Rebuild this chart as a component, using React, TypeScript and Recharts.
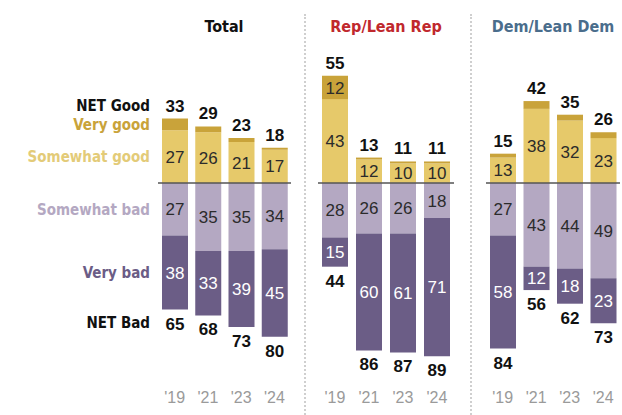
import React from "react";
import { BarChart, Bar, XAxis, YAxis, ReferenceLine, LabelList } from "recharts";

const years = ["'19", "'21", "'23", "'24"];

const totalSomewhatGood = [27, 26, 21, 17];
const totalVeryGood = [6, 3, 2, 1];
const totalNetGood = [33, 29, 23, 18];
const totalSomewhatBad = [27, 35, 35, 34];
const totalVeryBad = [38, 33, 39, 45];
const totalNetBad = [65, 68, 73, 80];

const repSomewhatGood = [43, 12, 10, 10];
const repVeryGood = [12, 1, 1, 1];
const repNetGood = [55, 13, 11, 11];
const repSomewhatBad = [28, 26, 26, 18];
const repVeryBad = [15, 60, 61, 71];
const repNetBad = [44, 86, 87, 89];

const demSomewhatGood = [13, 38, 32, 23];
const demVeryGood = [2, 4, 3, 3];
const demNetGood = [15, 42, 35, 26];
const demSomewhatBad = [27, 43, 44, 49];
const demVeryBad = [58, 12, 18, 23];
const demNetBad = [84, 56, 62, 73];

const C_SG = "#e6c96a";
const C_VG = "#c9a33a";
const C_SB = "#b4a8c2";
const C_VB = "#6b5d86";

const NUM_FONT = "'Liberation Sans', Arial, sans-serif";
const LABEL_FONT = "'Liberation Sans Narrow', 'DejaVu Sans Condensed', 'Liberation Sans', sans-serif";

const Y_DOMAIN: [number, number] = [-95, 60];

function buildRows(sg: number[], vg: number[], ng: number[], sb: number[], vb: number[], nb: number[]) {
  return years.map((year, i) => ({
    year,
    sg: sg[i],
    vg: vg[i],
    netGood: ng[i],
    sb: -sb[i],
    vb: -vb[i],
    netBad: nb[i],
  }));
}

const totalRows = buildRows(totalSomewhatGood, totalVeryGood, totalNetGood, totalSomewhatBad, totalVeryBad, totalNetBad);
const repRows = buildRows(repSomewhatGood, repVeryGood, repNetGood, repSomewhatBad, repVeryBad, repNetBad);
const demRows = buildRows(demSomewhatGood, demVeryGood, demNetGood, demSomewhatBad, demVeryBad, demNetBad);

// left-hand legend labels, placed against the '19 Total bar
const legendTicks = [
  { value: totalNetGood[0], label: "NET Good", color: "#111", dy: -13 },
  { value: totalSomewhatGood[0] + totalVeryGood[0] / 2, label: "Very good", color: C_VG, dy: 0 },
  { value: totalSomewhatGood[0] / 2, label: "Somewhat good", color: "#e3cb78", dy: 0 },
  { value: -totalSomewhatBad[0] / 2, label: "Somewhat bad", color: C_SB, dy: 0 },
  { value: -(totalSomewhatBad[0] + totalVeryBad[0] / 2), label: "Very bad", color: C_VB, dy: 0 },
  { value: -totalNetBad[0], label: "NET Bad", color: "#111", dy: 13 },
];

function box(props: any) {
  const vb = props.viewBox ?? props;
  const x = vb.x ?? props.x;
  const y = vb.y ?? props.y;
  const w = vb.width ?? props.width;
  const h = vb.height ?? props.height;
  return { x, y, w, h };
}

const centerLabel = (fill: string, minVal = 0) => (props: any) => {
  const v = Math.abs(Number(props.value));
  if (!v || v < minVal) return null;
  const { x, y, w, h } = box(props);
  return (
    <text x={x + w / 2} y={y + h / 2} dy="0.36em" textAnchor="middle" fill={fill} fontSize={17} fontFamily={NUM_FONT}>
      {v}
    </text>
  );
};

const netTopLabel = (props: any) => {
  const { x, y, w, h } = box(props);
  const top = Math.min(y, y + h);
  return (
    <text x={x + w / 2} y={top - 7} textAnchor="middle" fill="#111" fontSize={17} fontWeight="bold" fontFamily={NUM_FONT}>
      {props.value}
    </text>
  );
};

const netBottomLabel = (props: any) => {
  const { x, y, w, h } = box(props);
  const bottom = Math.max(y, y + h);
  return (
    <text x={x + w / 2} y={bottom + 20} textAnchor="middle" fill="#111" fontSize={17} fontWeight="bold" fontFamily={NUM_FONT}>
      {props.value}
    </text>
  );
};

const LegendTick = (props: any) => {
  const t = legendTicks.find((d) => Math.abs(d.value - props.payload.value) < 1e-6);
  if (!t) return null;
  return (
    <text x={props.x} y={props.y + t.dy} dy="0.36em" textAnchor="end" fill={t.color} fontSize={15} fontWeight="bold" fontFamily={LABEL_FONT}>
      {t.label}
    </text>
  );
};

interface PanelProps {
  rows: ReturnType<typeof buildRows>;
  width: number;
  margin: { left: number; right: number };
  legend?: boolean;
}

function Panel({ rows, width, margin, legend }: PanelProps) {
  return (
    <BarChart
      width={width}
      height={415}
      data={rows}
      stackOffset="sign"
      margin={{ top: 66, right: margin.right, bottom: 0, left: margin.left }}
      barSize={26}
    >
      <XAxis
        dataKey="year"
        height={47}
        axisLine={false}
        tickLine={false}
        tickSize={0}
        tickMargin={24}
        tick={{ fill: "#9a9a9a", fontSize: 16, fontFamily: NUM_FONT }}
        interval={0}
      />
      <YAxis
        domain={Y_DOMAIN}
        allowDataOverflow
        hide={!legend}
        width={legend ? 158 : 0}
        ticks={legendTicks.map((d) => d.value)}
        interval={0}
        axisLine={false}
        tickLine={false}
        tickSize={0}
        tickMargin={8}
        tick={<LegendTick />}
      />
      <Bar dataKey="sg" stackId="a" fill={C_SG} isAnimationActive={false}>
        <LabelList dataKey="sg" content={centerLabel("#2b2b2b")} />
      </Bar>
      <Bar dataKey="vg" stackId="a" fill={C_VG} isAnimationActive={false}>
        <LabelList dataKey="vg" content={centerLabel("#2b2b2b", 10)} />
        <LabelList dataKey="netGood" content={netTopLabel} />
      </Bar>
      <Bar dataKey="sb" stackId="a" fill={C_SB} isAnimationActive={false}>
        <LabelList dataKey="sb" content={centerLabel("#2b2b2b")} />
      </Bar>
      <Bar dataKey="vb" stackId="a" fill={C_VB} isAnimationActive={false}>
        <LabelList dataKey="vb" content={centerLabel("#ffffff")} />
        <LabelList dataKey="netBad" content={netBottomLabel} />
      </Bar>
      <ReferenceLine y={0} stroke="#555" strokeWidth={1.5} />
    </BarChart>
  );
}

const headerStyle: React.CSSProperties = {
  position: "absolute",
  top: 17,
  width: 200,
  marginLeft: -100,
  textAlign: "center",
  fontFamily: LABEL_FONT,
  fontWeight: "bold",
  fontSize: 16,
  lineHeight: "20px",
};

const sepStyle: React.CSSProperties = {
  position: "absolute",
  top: 14,
  height: 401,
  width: 0,
  borderLeft: "2px dotted #cfcfcf",
};

export default function App() {
  return (
    <div style={{ position: "absolute", left: 0, top: 0, width: 622, height: 415, background: "#fff", overflow: "hidden" }}>
      <div style={{ position: "absolute", left: 0, top: 0 }}>
        <Panel rows={totalRows} width={300} margin={{ left: 0, right: 9 }} legend />
      </div>
      <div style={{ position: "absolute", left: 310, top: 0 }}>
        <Panel rows={repRows} width={150} margin={{ left: 8, right: 6 }} />
      </div>
      <div style={{ position: "absolute", left: 478, top: 0 }}>
        <Panel rows={demRows} width={144} margin={{ left: 8, right: 2 }} />
      </div>
      <div style={{ ...sepStyle, left: 304 }} />
      <div style={{ ...sepStyle, left: 470 }} />
      <div style={{ ...headerStyle, left: 224, color: "#111" }}>Total</div>
      <div style={{ ...headerStyle, left: 386, color: "#c0282d" }}>Rep/Lean Rep</div>
      <div style={{ ...headerStyle, left: 553, color: "#4a6d8c" }}>Dem/Lean Dem</div>
    </div>
  );
}
